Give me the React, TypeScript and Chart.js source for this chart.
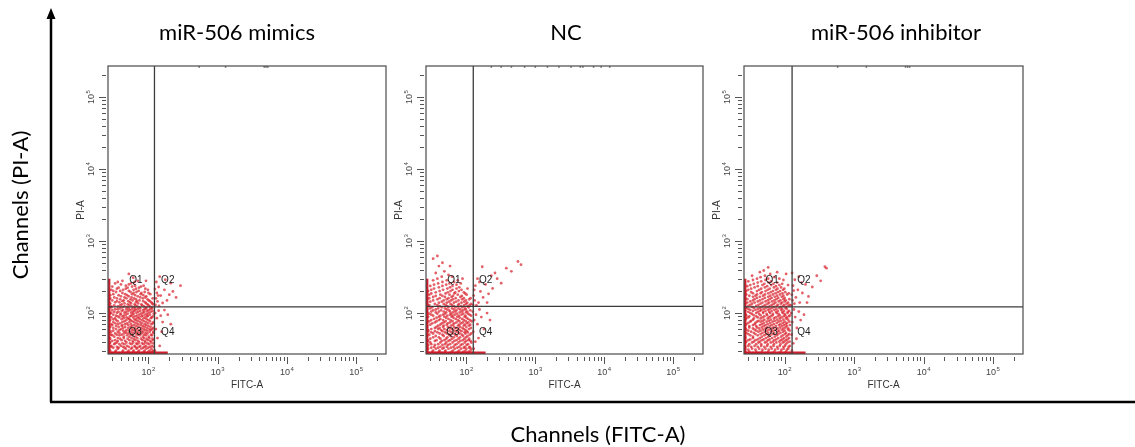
import React, { useEffect, useRef } from 'react';
import { Chart, registerables } from 'chart.js';

Chart.register(...registerables);

// ---------- axis ranges & ticks ----------
const X_MIN = 26;
const X_MAX = 270000;
const Y_MIN = 27;
const Y_MAX = 270000;
const DECADE_VALUES = [100, 1000, 10000, 100000];
const DECADE_EXPONENTS = ['2', '3', '4', '5'];
const X_AXIS_TITLE = 'FITC-A';
const Y_AXIS_TITLE = 'PI-A';

// ---------- panels ----------
const PANEL_TITLES = ['miR-506 mimics', 'NC', 'miR-506 inhibitor'];
const GATE_X = [122, 126, 128];
const GATE_Y = [122, 124, 122];
const QUADRANT_NAMES = ['Q1', 'Q2', 'Q3', 'Q4'];
const QUADRANT_X = [66, 190, 64, 190];
const QUADRANT_Y = [287, 287, 55, 55];
// events piled up on the axes (top of left-edge pile, right end of bottom-edge pile)
const LEFT_PILE_TOP = [300, 300, 300];
const BOTTOM_PILE_RIGHT = [190, 190, 200];

type Pt = [number, number];
type Row = [number, number[]];

// rows: [PI-A value, FITC-A values of the events in that row]
const MIMICS_ROWS: Row[] = [
  [28, [30, 38, 47, 55, 66, 80, 95, 108]],
  [29, [33, 42, 50, 60, 71, 86, 100, 113]],
  [30, [28, 34, 43, 52, 61, 73, 88, 104, 116]],
  [32, [27, 36, 47, 56, 67, 79, 93, 110]],
  [33, [31, 37, 45, 58, 69, 84, 99]],
  [34, [29, 35, 43, 52, 64, 74, 88, 105, 119]],
  [35, [29, 40, 49, 63, 76, 92, 112]],
  [37, [32, 38, 45, 57, 69, 85, 102]],
  [38, [27, 33, 42, 54, 67, 81, 97, 118]],
  [39, [28, 35, 48, 60, 73, 90, 109]],
  [41, [30, 36, 46, 59, 71, 89, 106]],
  [42, [33, 41, 53, 65, 82, 98, 116]],
  [44, [28, 39, 50, 62, 78, 94, 114]],
  [45, [27, 36, 44, 57, 69, 86, 103]],
  [47, [32, 44, 53, 65, 83, 101]],
  [49, [30, 38, 49, 59, 75, 92, 112]],
  [50, [29, 35, 41, 56, 70, 87, 109]],
  [52, [33, 44, 52, 66, 80, 97]],
  [53, [27, 38, 48, 60, 74, 91, 117]],
  [55, [29, 36, 46, 56, 69, 84, 104, 118]],
  [57, [31, 43, 52, 64, 79, 96]],
  [58, [27, 38, 48, 60, 74, 90, 108]],
  [60, [34, 40, 57, 68, 85, 103, 113]],
  [62, [31, 43, 51, 63, 79, 95, 117]],
  [64, [28, 37, 46, 55, 72, 88, 107]],
  [66, [27, 34, 41, 58, 67, 83, 100]],
  [68, [30, 42, 51, 62, 77, 93]],
  [70, [29, 36, 46, 56, 71, 88, 110]],
  [72, [33, 39, 49, 66, 80, 99, 115]],
  [75, [31, 42, 53, 62, 76, 93, 118]],
  [77, [27, 36, 45, 58, 70, 86, 105]],
  [80, [28, 34, 48, 55, 66, 81, 100]],
  [82, [31, 41, 53, 63, 75, 94]],
  [85, [33, 44, 51, 69, 85, 108]],
  [87, [29, 38, 48, 60, 73, 90, 111]],
  [90, [27, 36, 42, 54, 64, 79, 96, 116]],
  [92, [34, 44, 56, 68, 82, 98]],
  [95, [31, 39, 47, 59, 73, 89, 105]],
  [98, [28, 40, 50, 61, 78, 95, 119]],
  [101, [29, 35, 45, 56, 67, 83, 101]],
  [104, [32, 37, 47, 59, 71, 87, 108]],
  [107, [27, 41, 51, 62, 76, 95, 115]],
  [110, [30, 43, 54, 65, 84, 100]],
  [113, [33, 36, 48, 58, 70, 88, 106]],
  [116, [27, 39, 52, 64, 76, 92, 113]],
  [120, [29, 42, 49, 61, 73, 93, 110]],
  [124, [29, 36, 45, 57, 69, 86, 104]],
  [128, [32, 39, 53, 65, 81, 100]],
  [132, [27, 41, 50, 63, 79, 97, 116]],
  [136, [28, 45, 56, 71, 92, 113]],
  [141, [33, 38, 54, 66, 90, 110]],
  [146, [35, 42, 51, 68, 84, 105]],
  [150, [30, 44, 59, 74, 101]],
  [155, [27, 39, 55, 66, 97]],
  [160, [28, 35, 48, 62, 83, 115]],
  [165, [32, 45, 57, 76, 90]],
  [171, [40, 52, 70, 93]],
  [177, [28, 37, 49, 64, 84]],
  [183, [31, 46, 58, 77, 106]],
  [190, [42, 61, 79, 100]],
  [196, [34, 55, 67, 88]],
  [203, [31, 39, 52, 72]],
  [210, [29, 43, 61, 98]],
  [218, [35, 47, 66, 90]],
  [225, [37, 50, 73]],
  [233, [30, 58, 78]],
  [240, [47, 64, 85]],
  [250, [40, 52]],
  [258, [33, 56]],
  [270, [36, 63]],
  [280, [42, 70, 92]],
  [310, [60]],
  [350, [52]],
];
const MIMICS_OUTER: Pt[] = [
  [126, 130], [135, 145], [128, 160], [142, 126], [150, 175], [132, 190], [160, 138],
  [170, 210], [140, 230], [185, 150], [200, 180], [225, 200], [130, 270], [250, 165],
  [175, 290], [290, 240], [145, 320], [210, 260], [124, 215], [138, 175],
  [125, 100], [132, 85], [140, 108], [128, 60], [150, 92], [160, 75], [135, 45],
  [170, 110], [190, 95], [145, 35], [210, 70], [124, 30], [155, 55],
];
const MIMICS_TOP_EDGE: Pt[] = [[540, 262000], [1300, 262000], [4700, 262000], [5000, 262000], [5300, 262000]];

const NC_ROWS: Row[] = [
  [28, [29, 36, 44, 57, 70, 86, 103]],
  [29, [32, 40, 49, 61, 75, 91, 108]],
  [30, [27, 33, 41, 50, 64, 79, 97, 115]],
  [32, [28, 36, 45, 55, 68, 84, 100, 117]],
  [33, [31, 39, 47, 60, 74, 92, 110]],
  [34, [27, 34, 42, 52, 65, 79, 95, 112]],
  [36, [28, 35, 45, 54, 68, 83, 101]],
  [37, [31, 39, 49, 58, 72, 88, 106]],
  [39, [30, 42, 51, 63, 77, 95, 118]],
  [41, [28, 35, 44, 55, 67, 82, 99, 115]],
  [42, [27, 37, 48, 58, 72, 89, 107]],
  [44, [30, 42, 51, 62, 77, 94, 110]],
  [46, [33, 40, 53, 66, 81, 99]],
  [48, [27, 36, 47, 59, 73, 90, 104]],
  [50, [29, 45, 56, 69, 86, 112]],
  [52, [33, 41, 52, 64, 80, 97, 118]],
  [54, [31, 38, 49, 61, 75, 94, 105]],
  [56, [28, 35, 45, 57, 70, 85, 101]],
  [58, [28, 43, 52, 65, 80, 97]],
  [60, [31, 39, 48, 61, 76, 92, 109]],
  [62, [35, 41, 57, 71, 88, 116]],
  [64, [27, 37, 46, 54, 66, 81, 100]],
  [67, [27, 39, 47, 60, 76, 92, 109]],
  [69, [30, 42, 52, 64, 79, 95, 114]],
  [72, [32, 44, 54, 67, 84, 102]],
  [74, [27, 35, 47, 58, 72, 89, 107]],
  [77, [29, 37, 50, 63, 79, 98, 119]],
  [80, [31, 40, 46, 59, 75, 92, 113]],
  [83, [34, 42, 55, 70, 87, 106]],
  [86, [27, 37, 51, 65, 80, 100]],
  [89, [28, 40, 48, 61, 74, 94]],
  [92, [33, 42, 53, 63, 78, 97, 117]],
  [95, [31, 46, 58, 68, 85, 111]],
  [98, [29, 38, 49, 60, 73, 90, 106]],
  [102, [27, 36, 51, 64, 80, 99]],
  [105, [31, 40, 47, 58, 69, 86, 103]],
  [109, [33, 43, 56, 72, 90, 114]],
  [112, [27, 36, 52, 66, 82, 98]],
  [116, [30, 39, 49, 62, 77, 96]],
  [120, [32, 44, 55, 70, 88, 108]],
  [125, [28, 41, 53, 66, 84, 105]],
  [129, [29, 38, 50, 62, 76, 93, 112]],
  [134, [35, 47, 59, 78, 99, 117]],
  [139, [27, 40, 52, 66, 85, 103]],
  [144, [30, 44, 56, 71, 93]],
  [150, [33, 47, 60, 77, 98]],
  [155, [27, 38, 52, 64, 87, 110]],
  [161, [29, 41, 55, 70, 92, 115]],
  [167, [33, 49, 61, 82]],
  [173, [36, 45, 64, 86]],
  [180, [29, 42, 57, 75, 101]],
  [187, [31, 50, 67, 96]],
  [194, [36, 54, 69, 92]],
  [202, [28, 41, 59, 78]],
  [210, [31, 46, 63, 85]],
  [219, [34, 53, 72, 104]],
  [228, [40, 58, 79]],
  [238, [30, 45, 63]],
  [248, [34, 51, 72]],
  [258, [39, 57, 83]],
  [270, [45, 66]],
  [285, [33, 52, 75]],
  [300, [38, 88]],
  [320, [44, 62]],
  [340, [55]],
  [360, [36]],
  [380, [48]],
  [450, [40, 58]],
  [500, [45]],
  [570, [33]],
  [620, [38]],
];
const NC_OUTER: Pt[] = [
  [125, 130], [132, 150], [140, 128], [128, 175], [150, 140], [160, 200], [135, 240],
  [175, 165], [190, 250], [210, 185], [145, 300], [240, 220], [280, 300], [320, 260],
  [260, 360], [380, 420], [450, 380], [560, 520], [620, 470], [170, 440], [130, 210],
  [155, 270], [200, 140], [230, 330],
  [124, 105], [130, 80], [138, 95], [126, 55], [145, 70], [155, 112], [165, 88],
  [135, 40], [180, 60], [200, 100], [128, 32], [150, 45], [220, 80],
];
const NC_TOP_EDGE: Pt[] = [
  [230, 262000], [320, 262000], [450, 262000], [700, 262000], [1000, 262000],
  [1500, 262000], [2200, 262000], [3300, 262000], [4500, 262000], [4900, 262000],
  [7000, 262000], [9000, 262000], [12000, 262000],
];

const INHIBITOR_ROWS: Row[] = [
  [28, [28, 35, 43, 53, 66, 82, 100, 117]],
  [29, [31, 39, 47, 58, 71, 88, 105]],
  [31, [30, 38, 48, 59, 73, 90, 108]],
  [32, [27, 34, 43, 53, 65, 80, 97, 113]],
  [34, [27, 33, 41, 51, 63, 78, 96, 114]],
  [35, [30, 37, 46, 56, 69, 85, 101, 119]],
  [37, [31, 39, 46, 57, 70, 87, 104]],
  [39, [27, 34, 42, 52, 63, 76, 94, 110]],
  [40, [28, 36, 44, 55, 68, 84, 99, 118]],
  [42, [30, 38, 47, 58, 71, 88, 104]],
  [43, [32, 41, 50, 61, 76, 93, 110]],
  [45, [27, 35, 44, 54, 66, 81, 98, 116]],
  [47, [27, 35, 47, 58, 72, 89, 106]],
  [49, [32, 41, 51, 62, 77, 94, 111]],
  [51, [30, 38, 45, 54, 67, 81, 101, 116]],
  [53, [28, 36, 48, 58, 71, 87, 105]],
  [55, [33, 42, 52, 64, 79, 95]],
  [57, [30, 39, 45, 56, 68, 83, 100, 118]],
  [59, [28, 37, 49, 60, 74, 91, 112]],
  [61, [27, 35, 43, 53, 65, 79, 96, 113]],
  [63, [31, 40, 47, 56, 69, 86, 103]],
  [66, [31, 39, 50, 61, 75, 92, 108]],
  [68, [27, 35, 44, 53, 65, 83, 98, 119]],
  [70, [28, 37, 47, 57, 70, 87, 104]],
  [73, [30, 38, 50, 62, 77, 94, 108]],
  [76, [32, 40, 45, 55, 67, 82, 100, 117]],
  [78, [33, 42, 48, 59, 72, 88]],
  [81, [27, 35, 51, 63, 78, 96, 112]],
  [84, [28, 36, 45, 57, 70, 85, 105]],
  [87, [30, 41, 48, 60, 74, 90, 107]],
  [90, [31, 39, 51, 63, 80, 97, 115]],
  [93, [28, 36, 45, 56, 67, 85, 102, 119]],
  [97, [27, 34, 43, 55, 68, 82, 100]],
  [100, [32, 39, 49, 62, 77, 94, 110]],
  [104, [30, 41, 49, 60, 75, 92, 111]],
  [107, [27, 35, 44, 53, 65, 80, 98, 116]],
  [111, [32, 38, 46, 58, 71, 89]],
  [114, [30, 41, 50, 61, 76, 92, 107]],
  [118, [28, 36, 44, 54, 66, 84, 103]],
  [122, [27, 34, 47, 58, 71, 88, 105]],
  [126, [30, 39, 50, 62, 77, 95, 114]],
  [130, [32, 42, 53, 66, 80, 99, 118]],
  [135, [27, 34, 45, 57, 70, 88, 107]],
  [140, [29, 37, 48, 60, 74, 92, 112]],
  [145, [32, 41, 53, 66, 82, 100]],
  [150, [35, 44, 57, 71, 87, 104]],
  [156, [29, 37, 48, 61, 76, 96, 117]],
  [162, [27, 40, 52, 65, 81, 100]],
  [168, [35, 44, 58, 72, 91]],
  [174, [31, 38, 49, 62, 78, 96]],
  [181, [28, 40, 52, 68, 86, 109]],
  [188, [35, 45, 58, 74, 93, 115]],
  [195, [33, 47, 63, 80, 102]],
  [202, [28, 40, 53, 68, 86]],
  [210, [30, 43, 57, 75, 95]],
  [218, [33, 46, 61, 79, 99]],
  [227, [37, 52, 70, 89]],
  [236, [29, 41, 56, 75]],
  [245, [32, 48, 64, 84, 112]],
  [255, [36, 51, 69, 92]],
  [265, [41, 59, 78]],
  [276, [30, 46, 64]],
  [288, [35, 53, 96]],
  [300, [40, 58, 84]],
  [315, [45, 71]],
  [330, [34, 52]],
  [350, [62, 105]],
  [370, [44, 78]],
  [390, [50]],
  [430, [58]],
];
const INHIBITOR_OUTER: Pt[] = [
  [125, 128], [130, 150], [138, 135], [127, 180], [145, 165], [155, 210], [132, 240],
  [165, 140], [180, 190], [200, 250], [140, 290], [220, 170], [250, 230], [290, 330],
  [330, 280], [380, 440], [400, 420], [160, 320], [128, 360], [210, 140], [135, 205],
  [175, 265],
  [124, 100], [129, 75], [136, 112], [126, 50], [142, 88], [150, 62], [160, 105],
  [133, 38], [170, 80], [190, 95], [127, 30], [148, 44],
];
const INHIBITOR_TOP_EDGE: Pt[] = [[580, 262000], [1500, 262000], [5500, 262000], [5900, 262000], [6300, 262000]];

const PANEL_ROWS = [MIMICS_ROWS, NC_ROWS, INHIBITOR_ROWS];
const PANEL_OUTER = [MIMICS_OUTER, NC_OUTER, INHIBITOR_OUTER];
const PANEL_TOP_EDGE = [MIMICS_TOP_EDGE, NC_TOP_EDGE, INHIBITOR_TOP_EDGE];

// ---------- layout (page pixels) ----------
const BOX_LEFT = [108, 426, 744];
const BOX_RIGHT = [386, 703, 1023];
const TITLE_CENTER = [237, 566, 896];
const Y_AXIS_W = 50;
const CANVAS_H = 400;
const X_AXIS_H = 46;

const EVENT_COLOR = 'rgba(218, 34, 46, 0.72)';
const PILE_COLOR = 'rgba(205, 20, 35, 0.95)';
const EDGE_EVENT_COLOR = 'rgba(70, 70, 70, 0.8)';
const GATE_COLOR = '#3c3c3c';
const AXIS_COLOR = '#555555';
const SMALL_FONT = '"Liberation Sans", Arial, sans-serif';
const TITLE_FONT = 'Lato, "Open Sans", sans-serif';

function drawPow(ctx: CanvasRenderingContext2D, exp: string, cx: number, cy: number) {
  ctx.font = `9px ${SMALL_FONT}`;
  const w10 = ctx.measureText('10').width;
  ctx.font = `6px ${SMALL_FONT}`;
  const we = ctx.measureText(exp).width;
  const total = w10 + we + 0.5;
  const x0 = cx - total / 2;
  ctx.textAlign = 'left';
  ctx.textBaseline = 'middle';
  ctx.font = `9px ${SMALL_FONT}`;
  ctx.fillText('10', x0, cy);
  ctx.font = `6px ${SMALL_FONT}`;
  ctx.fillText(exp, x0 + w10 + 0.5, cy - 4);
}

const flowAxesPlugin = {
  id: 'flowAxes',
  afterDatasetsDraw(chart: any) {
    const { ctx, chartArea: a, scales } = chart;
    const xs = scales.x;
    const ys = scales.y;
    ctx.save();
    ctx.strokeStyle = '#4a4a4a';
    ctx.lineWidth = 1.2;
    ctx.strokeRect(a.left, a.top, a.right - a.left, a.bottom - a.top);
    ctx.strokeStyle = AXIS_COLOR;
    ctx.lineWidth = 1;
    for (let e = 1; e <= 5; e++) {
      for (let m = 1; m <= 9; m++) {
        const v = m * Math.pow(10, e);
        const len = m === 1 ? 7 : 4;
        if (v >= X_MIN && v <= X_MAX) {
          const px = Math.round(xs.getPixelForValue(v)) + 0.5;
          ctx.beginPath();
          ctx.moveTo(px, a.bottom + 3);
          ctx.lineTo(px, a.bottom + 3 + len);
          ctx.stroke();
        }
        if (v >= Y_MIN && v <= Y_MAX) {
          const py = Math.round(ys.getPixelForValue(v)) + 0.5;
          ctx.beginPath();
          ctx.moveTo(a.left - 2, py);
          ctx.lineTo(a.left - 2 - len, py);
          ctx.stroke();
        }
      }
    }
    ctx.fillStyle = '#444';
    DECADE_VALUES.forEach((v, i) => {
      const px = xs.getPixelForValue(v);
      drawPow(ctx, DECADE_EXPONENTS[i], px, a.bottom + 19);
      const py = ys.getPixelForValue(v);
      ctx.save();
      ctx.translate(a.left - 16, py);
      ctx.rotate(-Math.PI / 2);
      drawPow(ctx, DECADE_EXPONENTS[i], 0, 0);
      ctx.restore();
    });
    ctx.fillStyle = '#333';
    ctx.font = `10px ${SMALL_FONT}`;
    ctx.textAlign = 'center';
    ctx.textBaseline = 'middle';
    ctx.fillText(X_AXIS_TITLE, (a.left + a.right) / 2, a.bottom + 31);
    ctx.save();
    ctx.translate(a.left - 27, (a.top + a.bottom) / 2);
    ctx.rotate(-Math.PI / 2);
    ctx.fillText(Y_AXIS_TITLE, 0, 0);
    ctx.restore();
    ctx.fillStyle = '#222';
    ctx.font = `10px ${SMALL_FONT}`;
    QUADRANT_NAMES.forEach((q, i) => {
      ctx.fillText(q, xs.getPixelForValue(QUADRANT_X[i]), ys.getPixelForValue(QUADRANT_Y[i]));
    });
    ctx.restore();
  },
};

function FlowPanel({ index }: { index: number }) {
  const ref = useRef<HTMLCanvasElement | null>(null);
  const boxW = BOX_RIGHT[index] - BOX_LEFT[index];
  const canvasLeft = BOX_LEFT[index] - Y_AXIS_W;
  const canvasW = Math.round(2 * (TITLE_CENTER[index] - canvasLeft));
  const padR = canvasW - Y_AXIS_W - boxW;

  useEffect(() => {
    if (!ref.current) return;
    const events: Pt[] = [
      ...PANEL_ROWS[index].flatMap(([y, xList]) => xList.map((x) => [x, y] as Pt)),
      ...PANEL_OUTER[index],
    ];
    const gx = GATE_X[index];
    const gy = GATE_Y[index];
    const lineDs = (data: { x: number; y: number }[], color: string, width: number, order: number) => ({
      data,
      showLine: true,
      borderColor: color,
      borderWidth: width,
      pointRadius: 0,
      order,
      xAxisID: 'x',
      yAxisID: 'y',
    });
    const chart = new Chart(ref.current, {
      type: 'scatter',
      data: {
        datasets: [
          lineDs([{ x: gx, y: Y_MIN }, { x: gx, y: Y_MAX }], GATE_COLOR, 1.3, 0),
          lineDs([{ x: X_MIN, y: gy }, { x: X_MAX, y: gy }], GATE_COLOR, 1.3, 0),
          lineDs([{ x: 27, y: Y_MIN }, { x: 27, y: LEFT_PILE_TOP[index] }], PILE_COLOR, 2.5, 1),
          lineDs([{ x: X_MIN, y: 28 }, { x: BOTTOM_PILE_RIGHT[index], y: 28 }], PILE_COLOR, 2.5, 1),
          {
            data: events.map(([x, y]) => ({ x, y })),
            pointRadius: 1.4,
            pointBackgroundColor: EVENT_COLOR,
            pointBorderWidth: 0,
            showLine: false,
            order: 2,
            xAxisID: 'x',
            yAxisID: 'y',
          },
          {
            data: PANEL_TOP_EDGE[index].map(([x, y]) => ({ x, y })),
            pointRadius: 0.9,
            pointBackgroundColor: EDGE_EVENT_COLOR,
            pointBorderWidth: 0,
            showLine: false,
            order: 2,
            xAxisID: 'x',
            yAxisID: 'y',
          },
        ],
      } as any,
      options: {
        animation: false,
        responsive: false,
        devicePixelRatio: 1,
        events: [],
        layout: { padding: 0 },
        plugins: {
          legend: { display: false },
          tooltip: { enabled: false },
          title: {
            display: true,
            text: PANEL_TITLES[index],
            color: '#000',
            font: { family: TITLE_FONT, size: 22, weight: 'normal' },
            padding: { top: 20, bottom: 19.6 },
          },
        },
        scales: {
          x: {
            type: 'logarithmic',
            min: X_MIN,
            max: X_MAX,
            grid: { display: false },
            border: { display: false },
            ticks: { display: false },
            afterFit: (s: any) => { s.height = X_AXIS_H; },
          },
          y: {
            type: 'logarithmic',
            position: 'left',
            min: Y_MIN,
            max: Y_MAX,
            grid: { display: false },
            border: { display: false },
            ticks: { display: false },
            afterFit: (s: any) => { s.width = Y_AXIS_W; },
          },
          yR: {
            type: 'linear',
            position: 'right',
            grid: { display: false },
            border: { display: false },
            ticks: { display: false },
            afterFit: (s: any) => { s.width = padR; },
          },
        },
      } as any,
      plugins: [flowAxesPlugin],
    });
    return () => chart.destroy();
  }, [index, padR]);

  return (
    <canvas
      ref={ref}
      width={canvasW}
      height={CANVAS_H}
      style={{ position: 'absolute', left: canvasLeft, top: 0, width: canvasW, height: CANVAS_H }}
    />
  );
}

export default function App() {
  return (
    <div style={{ position: 'absolute', left: 0, top: 0, width: 1135, height: 447, background: '#fff', overflow: 'hidden' }}>
      {[0, 1, 2].map((i) => (
        <FlowPanel key={i} index={i} />
      ))}
      <svg width={1135} height={447} style={{ position: 'absolute', left: 0, top: 0 }}>
        <line x1={51} y1={402} x2={51} y2={16} stroke="#000" strokeWidth={2.5} />
        <polygon points="51,8 46.5,19 55.5,19" fill="#000" />
        <line x1={50} y1={402} x2={1135} y2={402} stroke="#000" strokeWidth={2.5} />
      </svg>
      <div
        style={{
          position: 'absolute', left: 20, top: 205, transform: 'translate(-50%, -50%) rotate(-90deg)',
          whiteSpace: 'nowrap', fontFamily: TITLE_FONT, fontSize: 22, color: '#000', lineHeight: 1,
        }}
      >
        Channels (PI-A)
      </div>
      <div
        style={{
          position: 'absolute', left: 598, top: 434, transform: 'translate(-50%, -50%)',
          whiteSpace: 'nowrap', fontFamily: TITLE_FONT, fontSize: 22, color: '#000', lineHeight: 1,
        }}
      >
        Channels (FITC-A)
      </div>
    </div>
  );
}
